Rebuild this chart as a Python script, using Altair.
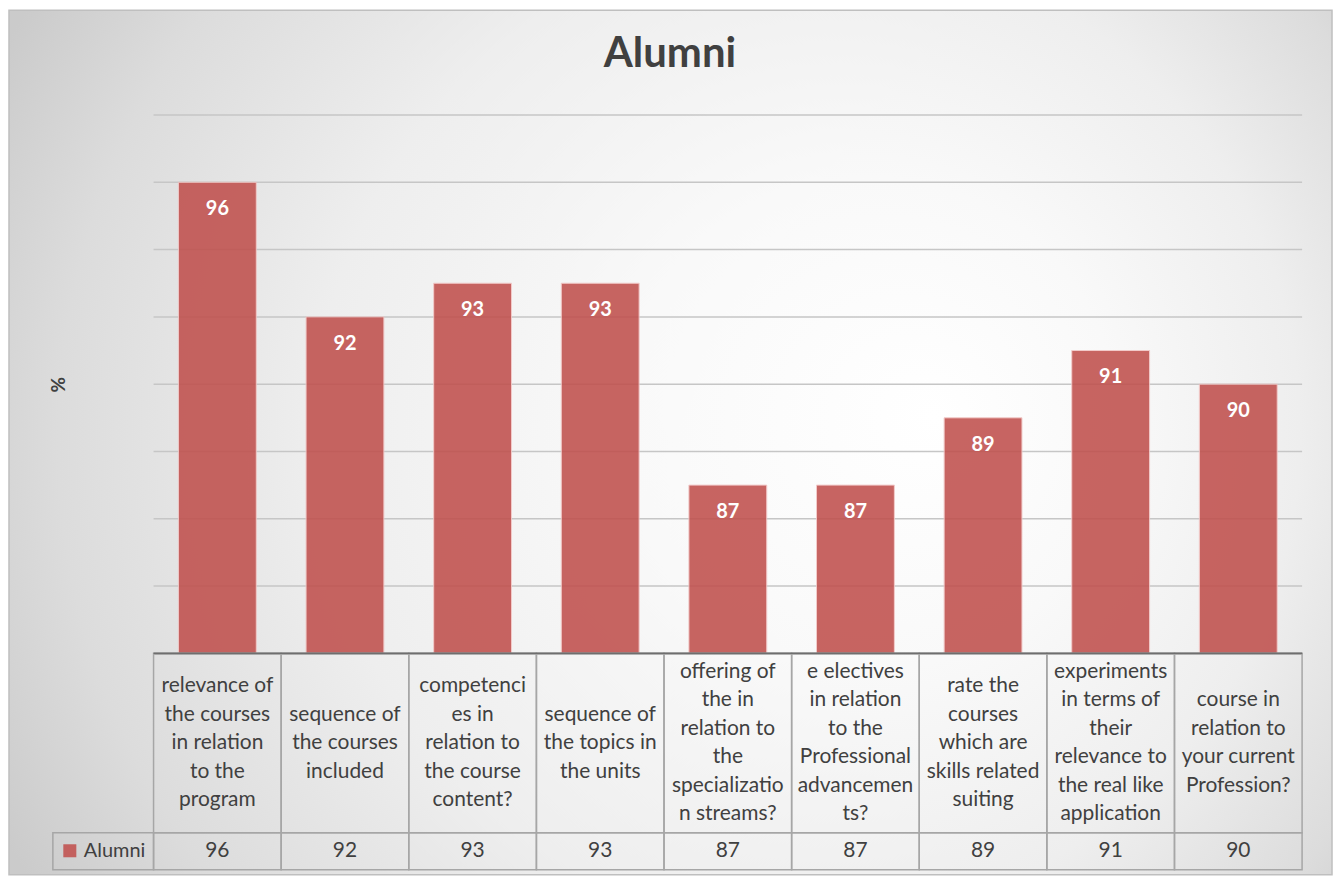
import altair as alt
import pandas as pd

# ---------------- data ----------------
CATEGORY_LINES = [
    ["relevance of", "the courses", "in relation", "to the", "program"],
    ["sequence of", "the courses", "included"],
    ["competenci", "es in", "relation to", "the course", "content?"],
    ["sequence of", "the topics in", "the units"],
    ["offering of", "the in", "relation to", "the", "specializatio", "n streams?"],
    ["e electives", "in relation", "to the", "Professional", "advancemen", "ts?"],
    ["rate the", "courses", "which are", "skills related", "suiting"],
    ["experiments", "in terms of", "their", "relevance to", "the real like", "application"],
    ["course in", "relation to", "your current", "Profession?"],
]
VALUES = [96, 92, 93, 93, 87, 87, 89, 91, 90]
SERIES = "Alumni"
TITLE = "Alumni"
Y_TITLE = "%"
Y_MIN, Y_MAX = 82, 98
GRID_VALUES = [84, 86, 88, 90, 92, 94, 96, 98]

# ---------------- styles ----------------
FONT = "Lato"
TEXT = "#404040"
BAR = "#c0504d"
CELL = "#a6a6a6"
W, H = 1152, 540
HDR_H, VAL_H = 180, 37
LINE_H = 28.6
TABLE_FS = 21
LEGEND_CELL_W = 101 / 128  # in column units

keys = [" ".join(l) for l in CATEGORY_LINES]
n = len(keys)
df = pd.DataFrame({
    "key": keys,
    "value": VALUES,
    "series": SERIES,
    "col": list(range(n)),
})
df["col_end"] = df["col"] + 1
df["mid"] = df["col"] + 0.5
df["lines"] = CATEGORY_LINES
# position of first line, in line units above the cell centre
df["first_line"] = [(len(l) - 1) / 2 for l in CATEGORY_LINES]

one = pd.DataFrame({"a": [0]})

gradient = {
    "gradient": "radial",
    "x1": 0.70, "y1": 0.48, "r1": 0,
    "x2": 0.54, "y2": 0.50, "r2": 0.62,
    "stops": [
        {"offset": 0.0, "color": "#ffffff"},
        {"offset": 0.3, "color": "#f9f9f9"},
        {"offset": 0.6, "color": "#eeeeee"},
        {"offset": 0.85, "color": "#dcdcdc"},
        {"offset": 1.0, "color": "#cbcbcb"},
    ],
}

bg = alt.Chart(one).mark_rect(
    fill=gradient, stroke="#bfbfbf", strokeWidth=1.5, clip=False
).encode(
    x=alt.value(-145), x2=alt.value(W + 30),
    y=alt.value(-105), y2=alt.value(H + HDR_H + VAL_H + 5),
)

yscale = alt.Scale(domain=[Y_MIN, Y_MAX], nice=False, zero=False)
yaxis = alt.Axis(
    title=Y_TITLE, labels=False, ticks=False, domain=False, grid=False,
    titleFont=FONT, titleFontSize=19, titleFontWeight="bold", titleColor=TEXT,
    titleAngle=270, titleBaseline="middle", titleX=-95, titleY=270, zindex=1,
)
Y = alt.Y("value:Q", scale=yscale, axis=yaxis)

xband = alt.X(
    "key:N", sort=keys,
    scale=alt.Scale(paddingInner=0.39, paddingOuter=0.195),
    axis=alt.Axis(labels=False, ticks=False, domain=True, domainColor="#6e6e6e",
                  domainWidth=1.5, grid=False, title=None, zindex=1),
)

grid = alt.Chart(pd.DataFrame({"value": GRID_VALUES})).mark_rule(
    color="#c6c6c6", strokeWidth=1.5
).encode(y=Y)

bars = alt.Chart(df).mark_bar(
    opacity=0.88, stroke="#f2c6c5", strokeWidth=1
).encode(
    x=xband,
    y=Y,
    y2=alt.Y2(datum=Y_MIN),
    color=alt.Color(
        "series:N",
        scale=alt.Scale(domain=[SERIES], range=[BAR]),
        legend=alt.Legend(
            title=None, orient="none", legendX=-94, legendY=728,
            symbolType="square", symbolSize=170, symbolStrokeWidth=0,
            labelFont=FONT, labelFontSize=20, labelColor=TEXT, padding=0,
            labelOffset=4,
        ),
    ),
)

labels = alt.Chart(df).mark_text(
    dy=27, color="white", font=FONT, fontSize=20, fontWeight="bold", baseline="middle"
).encode(x=xband, y=Y, text="value:Q")

title = alt.Chart(pd.DataFrame({"t": [TITLE]})).mark_text(
    font=FONT, fontSize=42, fontWeight="bold", color=TEXT, baseline="middle"
).encode(x=alt.value(W / 2 - 58), y=alt.value(-61), text="t:N")

top = alt.layer(bg, grid, bars, labels, title).properties(width=W, height=H)

# ---------------- data table ----------------
xcol = alt.Scale(domain=[0, n], nice=False, zero=False)
half_lines = HDR_H / LINE_H / 2
ylines = alt.Scale(domain=[-half_lines, half_lines], nice=False, zero=False)

hdr_cells = alt.Chart(df).mark_rect(
    fillOpacity=0, stroke=CELL, strokeWidth=1.5
).encode(x=alt.X("col:Q", scale=xcol, axis=None), x2="col_end:Q")

hdr_top = alt.Chart(pd.DataFrame({"a": [0], "b": [n]})).mark_rule(
    color="#6e6e6e", strokeWidth=1.5
).encode(x=alt.X("a:Q", scale=xcol, axis=None), x2="b:Q", y=alt.value(0))

hdr_text = alt.Chart(df).mark_text(
    font=FONT, fontSize=TABLE_FS, color=TEXT, lineHeight=LINE_H,
    baseline="middle", align="center",
).encode(
    x=alt.X("mid:Q", scale=xcol, axis=None),
    y=alt.Y("first_line:Q", scale=ylines, axis=None),
    text="lines:N",
)

header = alt.layer(hdr_cells, hdr_text, hdr_top).properties(width=W, height=HDR_H)

leg_df = pd.DataFrame({"col": [-LEGEND_CELL_W], "col_end": [0]})
val_cells = alt.Chart(pd.concat([df[["col", "col_end"]], leg_df])).mark_rect(
    fillOpacity=0, stroke=CELL, strokeWidth=1.5
).encode(x=alt.X("col:Q", scale=xcol, axis=None), x2="col_end:Q")

val_text = alt.Chart(df).mark_text(
    font=FONT, fontSize=TABLE_FS, color=TEXT, baseline="middle", align="center"
).encode(x=alt.X("mid:Q", scale=xcol, axis=None), text="value:Q")

values_row = alt.layer(val_cells, val_text).properties(width=W, height=VAL_H)

chart = alt.vconcat(top, header, values_row, spacing=0, bounds="flush").properties(
    padding=0
).configure_view(strokeWidth=0)

chart.save("out.html", embed_options={"renderer": "svg", "actions": False})
